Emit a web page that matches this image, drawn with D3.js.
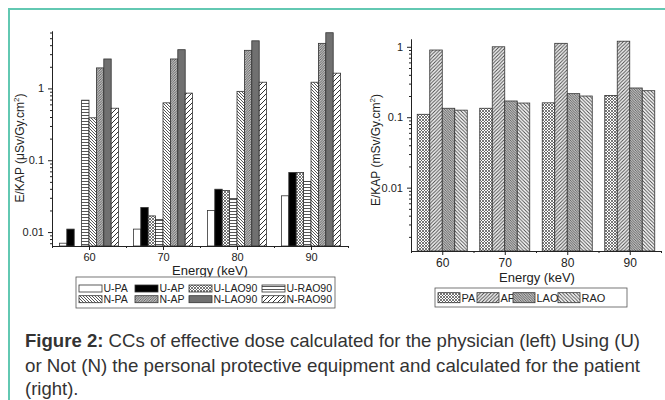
<!DOCTYPE html>
<html>
<head>
<meta charset="utf-8">
<script src="https://cdn.jsdelivr.net/npm/d3@7"></script>
<style>
  body { margin: 0; background: #fff; }
  svg { font-family: "Liberation Sans", Arial, sans-serif; }
  .axis path, .axis line { stroke: #222; }
  .axis text { fill: #222; font-size: 11px; }
</style>
</head>
<body>
<svg width="665" height="400"></svg>
<script>
// ---- data ----
var energies = [60, 70, 80, 90];

// left panel: physician, E/KAP in uSv/Gy.cm2
var leftNames = ["U-PA", "U-AP", "U-LAO90", "U-RAO90", "N-PA", "N-AP", "N-LAO90", "N-RAO90"];
var uPA    = [0.007, 0.011, 0.020, 0.032];
var uAP    = [0.011, 0.022, 0.0395, 0.0675];
var uLAO90 = [null, 0.0168, 0.038, 0.0675];
var uRAO90 = [0.686, 0.015, 0.0294, 0.0506];
var nPA    = [0.39, 0.63, 0.91, 1.22];
var nAP    = [1.93, 2.57, 3.39, 4.24];
var nLAO90 = [2.57, 3.46, 4.6, 5.96];
var nRAO90 = [0.53, 0.86, 1.22, 1.63];

// right panel: patient, E/KAP in mSv/Gy.cm2
var rightNames = ["PA", "AP", "LAO", "RAO"];
var pPA  = [0.11, 0.134, 0.16, 0.204];
var pAP  = [0.9, 1.0, 1.12, 1.2];
var pLAO = [0.134, 0.17, 0.216, 0.26];
var pRAO = [0.126, 0.159, 0.2, 0.238];

var yTicks = [0.01, 0.1, 1];
var xTicks = [60, 70, 80, 90];

var leftValues = [uPA, uAP, uLAO90, uRAO90, nPA, nAP, nLAO90, nRAO90];
var rightValues = [pPA, pAP, pLAO, pRAO];

var svg = d3.select("svg");
var defs = svg.append("defs");

// ---- hatch patterns ----
function hatch(id, size, bg, paths, sw, col) {
  var p = defs.append("pattern")
      .attr("id", id)
      .attr("patternUnits", "userSpaceOnUse")
      .attr("width", size)
      .attr("height", size);
  p.append("rect").attr("width", size).attr("height", size).attr("fill", bg);
  paths.forEach(function(d) {
    p.append("path").attr("d", d)
      .attr("stroke", col || "#333")
      .attr("stroke-width", sw)
      .attr("fill", "none");
  });
}
function fwd(s) { return ["M0," + s + "L" + s + ",0", "M-1,1L1,-1", "M" + (s - 1) + "," + (s + 1) + "L" + (s + 1) + "," + (s - 1)]; }
function back(s) { return ["M0,0L" + s + "," + s, "M-1," + (s - 1) + "L1," + (s + 1), "M" + (s - 1) + ",-1L" + (s + 1) + ",1"]; }

hatch("checker", 3, "#fff", fwd(3).concat(back(3)), 0.8, "#555");
hatch("horiz", 3, "#fff", ["M0,1.5L3,1.5"], 0.9, "#444");
hatch("backDense", 3, "#fff", back(3), 0.9, "#444");
hatch("fwdGray", 2.5, "#bbb", fwd(2.5), 0.8, "#555");
hatch("fwdSparse", 5, "#fff", fwd(5), 1, "#333");
hatch("fwdMed", 3.5, "#f4f4f4", fwd(3.5), 0.9, "#444");
hatch("backGray", 2.5, "#bbb", back(2.5), 0.8, "#555");
hatch("backMed", 3.5, "#fff", back(3.5), 0.9, "#444");

var leftFills = ["#fff", "#000", "url(#checker)", "url(#horiz)", "url(#backDense)", "url(#fwdGray)", "#707070", "url(#fwdSparse)"];
var rightFills = ["url(#checker)", "url(#fwdMed)", "url(#backGray)", "url(#backMed)"];

// ---- teal frame ----
svg.append("path")
    .attr("d", "M9,400V9H665")
    .attr("fill", "none")
    .attr("stroke", "#62c8b2")
    .attr("stroke-width", 2);

function minorLog(lo, hi) {
  var out = [];
  for (var k = -4; k <= 2; k++) {
    for (var m = 2; m <= 9; m++) {
      var v = m * Math.pow(10, k);
      if (v >= lo && v <= hi) out.push(v);
    }
  }
  return out;
}

// d3.axis puts its own font attrs on the group, drop them so the css font applies
function plain(sel) {
  sel.attr("font-family", null).attr("font-size", null);
}

function panel(opt) {
  var x = d3.scaleLinear().domain([55, 95]).range([opt.left, opt.right]);
  var y = d3.scaleLog().domain(opt.yDomain).range([opt.bottom, opt.top]);
  var g = svg.append("g");

  // bars
  opt.values.forEach(function(series, i) {
    g.selectAll(null)
      .data(series.map(function(v, j) { return {e: energies[j], v: v}; })
        .filter(function(d) { return d.v != null; }))
      .enter().append("rect")
        .attr("x", function(d) { return x(d.e - opt.half + i * opt.step); })
        .attr("width", x(opt.step) - x(0))
        .attr("y", function(d) { return y(d.v); })
        .attr("height", function(d) { return opt.bottom - y(d.v); })
        .attr("fill", opt.fills[i])
        .attr("stroke", "#333")
        .attr("stroke-width", 0.8);
  });

  // axes
  g.append("g").attr("class", "axis")
      .attr("transform", "translate(" + opt.left + ",0)")
      .call(d3.axisLeft(y).tickValues(minorLog(opt.yDomain[0], opt.yDomain[1])).tickFormat("").tickSize(2).tickSizeOuter(0))
      .call(plain);
  g.append("g").attr("class", "axis")
      .attr("transform", "translate(" + opt.left + ",0)")
      .call(d3.axisLeft(y).tickValues(yTicks).tickFormat(d3.format("~g")).tickSize(4).tickSizeOuter(0))
      .call(plain)
      .selectAll("text").attr("dx", "-1");
  g.append("g").attr("class", "axis")
      .attr("transform", "translate(0," + opt.bottom + ")")
      .call(d3.axisBottom(x).tickValues([55, 65, 75, 85, 95]).tickFormat("").tickSize(2).tickSizeOuter(0))
      .call(plain);
  g.append("g").attr("class", "axis")
      .attr("transform", "translate(0," + opt.bottom + ")")
      .call(d3.axisBottom(x).tickValues(xTicks).tickSize(4).tickSizeOuter(0))
      .call(plain)
      .selectAll("text").style("font-size", opt.xFont + "px").attr("dy", opt.xDy);

  g.append("text")
      .attr("x", opt.xLabelX)
      .attr("y", opt.xLabelY)
      .attr("text-anchor", "middle")
      .attr("font-size", 13)
      .attr("fill", "#222")
      .text("Energy (keV)");

  var yl = g.append("text")
      .attr("transform", "translate(" + opt.yLabelX + "," + opt.yLabelY + ") rotate(-90)")
      .attr("text-anchor", "middle")
      .attr("font-size", 12)
      .attr("fill", "#222");
  yl.append("tspan").text(opt.yLabel);
  yl.append("tspan").attr("font-size", 8).attr("dy", -5).text("2");
  yl.append("tspan").attr("dy", 5).text(")");

  // legend
  var lg = g.append("g");
  lg.append("rect")
      .attr("x", opt.legend.x).attr("y", opt.legend.y)
      .attr("width", opt.legend.w).attr("height", opt.legend.h)
      .attr("fill", "#fff").attr("stroke", "#555").attr("stroke-width", 0.8);
  opt.names.forEach(function(name, i) {
    var col = i % opt.legend.cols, row = Math.floor(i / opt.legend.cols);
    var sx = opt.legend.cx[col], sy = opt.legend.rowY[row];
    lg.append("rect")
        .attr("x", sx).attr("y", sy - opt.legend.sh / 2)
        .attr("width", opt.legend.sw).attr("height", opt.legend.sh)
        .attr("fill", opt.fills[i]).attr("stroke", "#333").attr("stroke-width", 0.8);
    lg.append("text")
        .attr("x", sx + opt.legend.sw + 1.5).attr("y", sy)
        .attr("dy", "0.36em")
        .attr("font-size", opt.legend.font)
        .attr("fill", "#222")
        .text(name);
  });
}

panel({
  left: 52, right: 348, top: 31, bottom: 246,
  yDomain: [0.0064, 6.3],
  values: leftValues, fills: leftFills, names: leftNames,
  half: 4, step: 1, xFont: 11, xDy: "0.71em",
  xLabelX: 210, xLabelY: 275,
  yLabelX: 24, yLabelY: 148, yLabel: "E/KAP (\u03bcSv/Gy.cm",
  legend: {x: 76, y: 277, w: 259, h: 31, cols: 4, cx: [79, 135, 189, 262], rowY: [288.5, 299.2], sw: 23, sh: 7, font: 10.5}
});

panel({
  left: 411, right: 661, top: 39, bottom: 251,
  yDomain: [0.00126, 1.29],
  values: rightValues, fills: rightFills, names: rightNames,
  half: 4, step: 2, xFont: 12, xDy: "0.75em",
  xLabelX: 537, xLabelY: 282,
  yLabelX: 380, yLabelY: 150, yLabel: "E/KAP (mSv/Gy.cm",
  legend: {x: 435, y: 288, w: 192, h: 19, cols: 4, cx: [438, 477, 513, 558], rowY: [297.7], sw: 22, sh: 10, font: 11}
});

// ---- caption (narrow, justified lines) ----
var cap = svg.append("g").attr("font-size", 18.5).attr("fill", "#333");
var l1 = cap.append("text").attr("x", 25).attr("y", 347).attr("textLength", 615).attr("lengthAdjust", "spacingAndGlyphs");
l1.append("tspan").attr("font-weight", "bold").text("Figure 2:");
l1.append("tspan").text(" CCs of effective dose calculated for the physician (left)  Using (U)");
cap.append("text").attr("x", 25).attr("y", 372).attr("textLength", 615).attr("lengthAdjust", "spacingAndGlyphs")
    .text("or Not (N) the personal protective equipment and calculated for the patient");
cap.append("text").attr("x", 25).attr("y", 395).text("(right).");
</script>
</body>
</html>
